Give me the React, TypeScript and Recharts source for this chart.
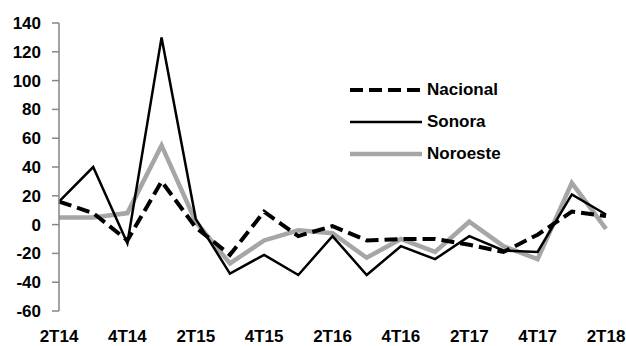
import { LineChart, Line, XAxis, YAxis, Legend } from "recharts";

const quarters = [
  "2T14", "3T14", "4T14", "1T15", "2T15", "3T15", "4T15", "1T16", "2T16",
  "3T16", "4T16", "1T17", "2T17", "3T17", "4T17", "1T18", "2T18",
];
const nacional = [16, 8, -11, 30, -2, -21, 9, -8, -1, -11, -10, -10, -14, -19, -7, 9, 6];
const sonora = [16, 40, -13, 130, 4, -34, -21, -35, -8, -35, -15, -24, -8, -18, -19, 21, 7];
const noroeste = [5, 5, 8, 55, 2, -27, -11, -4, -6, -23, -10, -19, 2, -15, -24, 29, -3];
const yTicks = [-60, -40, -20, 0, 20, 40, 60, 80, 100, 120, 140];

const data = quarters.map((q, i) => ({
  q,
  nacional: nacional[i],
  sonora: sonora[i],
  noroeste: noroeste[i],
}));

// legend order
const series = [
  { key: "nacional", name: "Nacional", color: "#000000", width: 4, dash: "13 6" },
  { key: "sonora", name: "Sonora", color: "#000000", width: 2.5, dash: undefined },
  { key: "noroeste", name: "Noroeste", color: "#a6a6a6", width: 4.5, dash: undefined },
];
// draw order
const drawOrder = ["noroeste", "sonora", "nacional"];

const font = { fontFamily: "'Liberation Sans', Arial, sans-serif", fontWeight: 700, fontSize: 17 };

function LegendBox() {
  return (
    <div style={{ ...font }}>
      {series.map((s) => (
        <div key={s.key} style={{ display: "flex", alignItems: "center", height: 32 }}>
          <svg width={72} height={10} style={{ marginRight: 5 }}>
            <line
              x1={0}
              y1={5}
              x2={72}
              y2={5}
              stroke={s.color}
              strokeWidth={s.width}
              strokeDasharray={s.dash}
            />
          </svg>
          <span style={{ color: "#000" }}>{s.name}</span>
        </div>
      ))}
    </div>
  );
}

export default function App() {
  return (
    <div style={{ position: "absolute", left: 0, top: 0, background: "#fff" }}>
      <LineChart
        width={626}
        height={346}
        data={data}
        margin={{ top: 23, right: 20, left: 0, bottom: 5 }}
      >
        <XAxis
          dataKey="q"
          interval={1}
          axisLine={false}
          tickLine={false}
          tickSize={0}
          tickMargin={19}
          height={30}
          tick={{ ...font, fill: "#000" }}
        />
        <YAxis
          domain={[-60, 140]}
          ticks={yTicks}
          interval={0}
          width={59}
          tickSize={7}
          tickMargin={11}
          axisLine={{ stroke: "#868686", strokeWidth: 1.5 }}
          tickLine={{ stroke: "#868686", strokeWidth: 1.5 }}
          tick={{ ...font, fill: "#000" }}
        />
        <Legend
          layout="vertical"
          align="center"
          verticalAlign="middle"
          content={() => <LegendBox />}
          wrapperStyle={{ position: "absolute", left: 350, top: 74, width: "auto" }}
        />
        {drawOrder.map((k) => {
          const s = series.find((x) => x.key === k)!;
          return (
            <Line
              key={s.key}
              type="linear"
              dataKey={s.key}
              name={s.name}
              stroke={s.color}
              strokeWidth={s.width}
              strokeDasharray={s.dash}
              dot={false}
              activeDot={false}
              isAnimationActive={false}
            />
          );
        })}
      </LineChart>
    </div>
  );
}
